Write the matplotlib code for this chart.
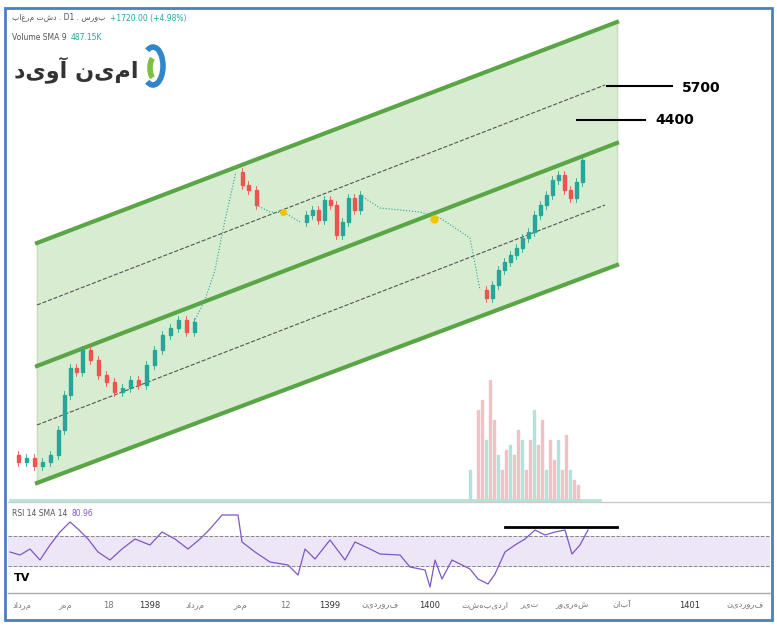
import matplotlib
matplotlib.use("Agg")
import matplotlib.pyplot as plt
from matplotlib.patches import Rectangle, Arc

W, H = 777, 626

# price path (x pixel, y pixel)
price_x = [10, 18, 26, 34, 42, 50, 58, 64, 70, 76, 82, 90, 98, 106, 114, 122, 130, 138, 146, 154, 162, 170, 178, 186, 194,
           236, 242, 248, 256, 300, 306, 312, 318, 324, 330, 336, 342, 348, 354, 360,
           480, 486, 492, 498, 504, 510, 516, 522, 528, 534, 540, 546, 552, 558, 564, 570, 576, 582]
price_y = [455, 462, 458, 466, 462, 455, 430, 395, 368, 372, 350, 360, 375, 382, 392, 388, 380, 385, 365, 350, 335, 328, 320, 332, 322,
           172, 185, 190, 205, 222, 215, 210, 220, 200, 205, 235, 222, 198, 210, 195,
           290, 298, 285, 270, 262, 255, 248, 238, 232, 215, 205, 195, 180, 175, 190, 198, 182, 160]
# thin dotted / line stretches between candle clusters
gap_x = [[194, 205, 215, 225, 236], [256, 270, 285, 300], [360, 380, 400, 420, 440, 455, 470, 480]]
gap_y = [[322, 300, 270, 220, 172], [205, 212, 213, 222], [195, 208, 210, 212, 218, 228, 238, 290]]

vol_x = [470, 478, 482, 486, 490, 494, 498, 502, 506, 510, 514, 518, 522, 526, 530, 534, 538, 542, 546, 550, 554, 558, 562, 566, 570, 574, 578]
vol_top = [470, 410, 400, 440, 380, 420, 455, 470, 450, 445, 455, 430, 440, 470, 440, 410, 445, 420, 470, 440, 460, 440, 470, 435, 470, 480, 485]

rsi_x = [10, 20, 30, 40, 50, 60, 70, 78, 88, 98, 110, 122, 135, 150, 162, 175, 188, 200, 210, 222, 238, 242, 255, 270, 288, 298, 305,
         315, 330, 345, 355, 370, 380, 400, 410, 425, 430, 435, 442, 452, 470, 478, 488, 495, 505, 515, 525, 535, 545, 555, 565, 572, 580, 588]
rsi_y = [552, 555, 549, 560, 545, 532, 522, 529, 539, 552, 560, 549, 539, 545, 532, 539, 549, 539, 529, 515, 515, 542, 552, 562, 565, 575, 549,
         559, 540, 560, 542, 549, 554, 555, 567, 570, 587, 560, 579, 560, 569, 579, 584, 574, 552, 545, 539, 530, 535, 532, 530, 554, 545, 530]

tick_x = [22, 65, 108, 150, 195, 240, 285, 330, 380, 430, 485, 530, 572, 622, 690, 745]
tick_labels = ["مرداد", "مهر", "18", "1398", "مرداد", "مهر", "12", "1399", "فروردین", "1400", "اردیبهشت", "تیر", "شهریور", "آبان", "1401", "فروردین"]


def rtl(s):
    return s[::-1] if any("\u0600" <= c <= "\u06ff" for c in s) else s


def label_pair(axis, x, y, first, second, color, size):
    t = axis.text(x, y, first, fontsize=size, color="#555555", va="center")
    axis.annotate(second, xy=(1, 0.5), xycoords=t, xytext=(3, 0), textcoords="offset points",
                  fontsize=size, color=color, va="center")


fig = plt.figure(figsize=(W / 100, H / 100), dpi=100)
fig.patch.set_facecolor("white")
fig.patches.append(Rectangle((5 / W, 6 / H), 767 / W, 612 / H, transform=fig.transFigure,
                             fill=False, edgecolor="#4a7fc1", linewidth=2))

ax = fig.add_axes([8 / W, (H - 502) / H, 762 / W, 492 / H])
ax.set_xlim(8, 770)
ax.set_ylim(502, 10)
ax.axis("off")

# channel
x0, x1 = 37, 617
upper = (243, 22)
middle = (366, 143)
lower = (483, 265)
ax.fill_between([x0, x1], [upper[0], upper[1]], [lower[0], lower[1]], color="#d8ecd2", zorder=0)
ax.plot([x0, x0], [upper[0], lower[0]], color="#c5e0bd", linewidth=1, zorder=0)
ax.plot([x1, x1], [upper[1], lower[1]], color="#c5e0bd", linewidth=1, zorder=0)
for y in (upper, middle, lower):
    ax.plot([x0, x1], y, color="#5aa646", linewidth=3, zorder=3)
ax.plot([x0, 605], [305, 85], color="#555555", linestyle="--", linewidth=0.8, zorder=2)
ax.plot([x0, 605], [425, 205], color="#555555", linestyle="--", linewidth=0.8, zorder=2)

# volume
for i, (vx, vt) in enumerate(zip(vol_x, vol_top)):
    ax.add_patch(Rectangle((vx - 1, vt), 2, 502 - vt, color="#efc3c6" if i % 3 else "#b4e2da", zorder=1))
ax.plot([10, 600], [500, 500], color="#b9e0d8", linewidth=2, zorder=1)

# candles
for i in range(1, len(price_x)):
    if price_x[i] - price_x[i - 1] > 10:
        continue
    o, c = price_y[i - 1], price_y[i]
    col = "#26a69a" if c < o else "#ef5350"
    ax.plot([price_x[i], price_x[i]], [min(o, c) - 4, max(o, c) + 4], color=col, linewidth=0.6, zorder=4)
    ax.add_patch(Rectangle((price_x[i] - 1.5, min(o, c)), 3, max(abs(c - o), 1), color=col, zorder=4))
for gx, gy in zip(gap_x, gap_y):
    ax.plot(gx, gy, color="#26a69a", linewidth=0.8, linestyle=":", zorder=4)
ax.plot([283], [212], "o", color="#f2c500", markersize=4, zorder=5)
ax.plot([434], [219], "o", color="#f2c500", markersize=5, zorder=5)

# target levels
ax.plot([607, 672], [86, 86], color="black", linewidth=1.5)
ax.plot([577, 645], [120, 120], color="black", linewidth=1.5)
ax.text(682, 88, "5700", fontsize=10, va="center", fontweight="bold")
ax.text(655, 120, "4400", fontsize=10, va="center", fontweight="bold")

# header texts
label_pair(ax, 12, 18, rtl("بورس . 1D . دشت مرغاب"), "+1720.00 (+4.98%)", "#26a69a", 5.5)
label_pair(ax, 12, 38, "Volume SMA 9", "487.15K", "#26a69a", 5.5)
ax.text(14, 70, rtl("امین آوید"), fontsize=16, fontweight="bold", color="#333333", va="center")
ax.add_patch(Arc((153, 66), 20, 38, theta1=250, theta2=110, color="#2f86cc", linewidth=4))
ax.add_patch(Arc((156, 68), 12, 24, theta1=110, theta2=250, color="#7bc043", linewidth=4))

# RSI panel
rx = fig.add_axes([8 / W, (H - 592) / H, 762 / W, 87 / H])
rx.set_xlim(8, 770)
rx.set_ylim(592, 505)
rx.axis("off")
rx.axhspan(536, 566, color="#ede6f7")
rx.axhline(536, color="#888888", linestyle="--", linewidth=0.7)
rx.axhline(566, color="#888888", linestyle="--", linewidth=0.7)
rx.plot(rsi_x, rsi_y, color="#7e57c2", linewidth=0.9)
rx.plot([505, 617], [527, 527], color="black", linewidth=2)
label_pair(rx, 12, 514, "RSI 14 SMA 14", "80.96", "#7e57c2", 5.5)
rx.text(14, 578, "TV", fontsize=8, fontweight="bold", va="center")

fig.lines.append(plt.Line2D([8 / W, 770 / W], [(H - 593) / H] * 2, transform=fig.transFigure, color="#aaaaaa", linewidth=1))
fig.lines.append(plt.Line2D([8 / W, 770 / W], [(H - 502) / H] * 2, transform=fig.transFigure, color="#cccccc", linewidth=1))

for tx, tl in zip(tick_x, tick_labels):
    fig.text(tx / W, (H - 605) / H, rtl(tl), fontsize=6, ha="center", va="center",
             color="#333333" if tl.isdigit() and len(tl) == 4 else "#777777")

fig.savefig("out.png", dpi=100)
